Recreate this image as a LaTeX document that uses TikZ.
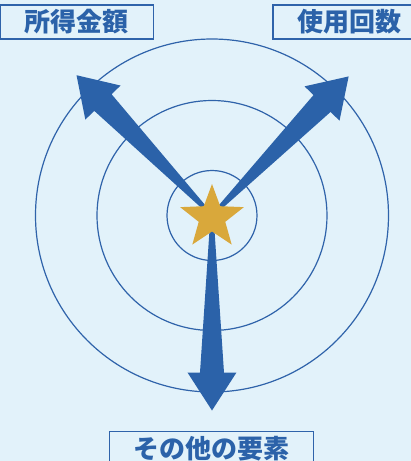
\documentclass[tikz,border=0pt]{standalone}
\usepackage{fontspec}
\newfontfamily\jpfont{Noto Sans CJK JP}
\usepackage{tikz}
\usetikzlibrary{shapes.geometric}

\definecolor{bgblue}{HTML}{E2F2FA}
\definecolor{ringblue}{HTML}{2F63AA}
\definecolor{arrowblue}{HTML}{2B62A9}
\definecolor{stargold}{HTML}{D9A83B}

\tikzset{
  labelbox/.style={draw=ringblue, line width=1.4pt, fill=bgblue, text=arrowblue,
    font=\jpfont\bfseries\fontsize{26}{30}\selectfont, minimum height=34pt, inner sep=0pt},
  ring/.style={draw=ringblue, line width=1.2pt},
  fatarrow/.style={fill=arrowblue},
}

\begin{document}
\begin{tikzpicture}[x=1pt,y=1pt]
  \fill[bgblue] (-212,-245.5) rectangle (199,215.5);
  \useasboundingbox (-212,-245.5) rectangle (199,215.5);
  \coordinate (o) at (0,0);
  \foreach \r in {45,115,176.5}
    \draw[ring] (o) circle (\r);
  \foreach \a in {134,45.5,270}
    \fill[fatarrow,rotate=\a] (o) ++(0,-1.5) -- (157,-12) -- (157,-24.5) -- (195,0)
      -- (157,24.5) -- (157,12) -- (0,1.5) -- cycle;
  \node[star, star points=5, star point ratio=2.4, minimum size=67pt, inner sep=0pt,
    fill=stargold] (goal) at (0,-2) {};
  \node[labelbox, minimum width=153pt] (income) at (-135,193.5) {所得金額};
  \node[labelbox, minimum width=153pt] (usage) at (137.4,193.5) {使用回数};
  \node[labelbox, minimum width=204pt] (other) at (-0.7,-233.2) {その他の要素};
\end{tikzpicture}
\end{document}
